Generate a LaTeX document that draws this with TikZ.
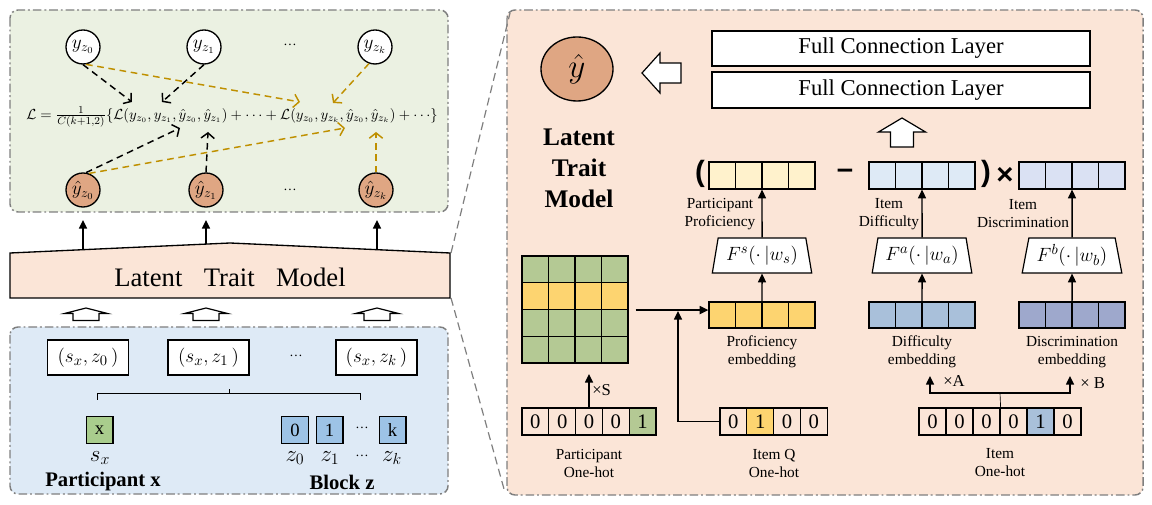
\documentclass[tikz,border=0pt]{standalone}
\usepackage{fontspec}
\setmainfont{Liberation Serif}
\setsansfont{Liberation Sans}
\usetikzlibrary{arrows.meta,calc,shapes.geometric}
\definecolor{ink}{HTML}{000000}
\definecolor{frame}{HTML}{7F7F7F}
\definecolor{tintgreen}{HTML}{EBF1E2}
\definecolor{tintblue}{HTML}{DEEAF6}
\definecolor{tintpeach}{HTML}{FBE5D7}
\definecolor{hatbrown}{HTML}{DFA683}
\definecolor{gold}{HTML}{BF9000}
\definecolor{mgreen}{HTML}{B4C994}
\definecolor{xgreen}{HTML}{A9CD8D}
\definecolor{myellow}{HTML}{FDD470}
\definecolor{mblue}{HTML}{A9C0DA}
\definecolor{zblue}{HTML}{9DC3E6}
\definecolor{mlav}{HTML}{9EA8CC}
\definecolor{ylight}{HTML}{FFF2CC}
\definecolor{blight}{HTML}{DEEAF6}
\definecolor{llight}{HTML}{DAE1F3}
\newcommand{\labfont}{\fontsize{11.5}{13.5}\selectfont}
\newcommand{\digfont}{\fontsize{15.5}{17}\selectfont}
\newcommand{\fclfont}{\fontsize{17}{19}\selectfont}
\newcommand{\headfont}{\fontsize{19}{23.25}\selectfont\bfseries}
\newcommand{\opfont}{\sffamily\bfseries\fontsize{22}{24}\selectfont}

\begin{document}
\begin{tikzpicture}[x=0.75pt,y=-0.75pt,
  panel/.style={draw=frame,line width=1.1pt,dash pattern=on 6.5pt off 2.2pt on 1.4pt off 2.2pt,rounded corners=6pt},
  zoomline/.style={draw=frame,line width=0.9pt,dash pattern=on 6pt off 3.5pt},
  cell/.style={draw=ink,line width=0.9pt,minimum width=20.1pt,minimum height=20.25pt,inner sep=0pt,font=\digfont},
  vec/.style={draw=ink,line width=0.9pt,minimum width=79.5pt,minimum height=20.25pt,inner sep=0pt},
  trap/.style={draw=ink,line width=0.9pt,fill=white,trapezium,trapezium left angle=76,trapezium right angle=76,trapezium stretches=true,minimum width=75pt,minimum height=26.25pt,inner sep=0pt,font=\fontsize{15.5}{17}\selectfont},
  arr/.style={line width=1.1pt,-{Triangle[length=6.5pt,width=6pt]}},
  dasharr/.style={line width=1.1pt,dash pattern=on 5pt off 3.5pt,-{Straight Barb[length=4pt,width=10pt,line width=1.1pt]}},
  yball/.style={circle,draw=ink,line width=1pt,fill=white,minimum size=25.5pt,inner sep=0pt,font=\fontsize{14}{16}\selectfont},
  hball/.style={yball,fill=hatbrown},
  hollow/.style={draw=ink,line width=0.9pt,fill=white},
  pairbox/.style={draw=ink,line width=0.8pt,fill=white,minimum width=60.75pt,minimum height=26.25pt,inner sep=0pt,font=\fontsize{15.5}{17}\selectfont},
  txt/.style={align=center,font=\labfont,inner sep=0pt}]
\useasboundingbox (0,0) rectangle (1152,505);

\draw[panel,fill=tintgreen] (10,10) rectangle (448,212);
\draw[panel,fill=tintblue] (10,327) rectangle (448,494);
\draw[panel,fill=tintpeach] (507,10) rectangle (1143,495);

\coordinate (ltm-ne) at (451,253);
\coordinate (ltm-se) at (451,298);
\coordinate (rp-nw) at (510,13);
\coordinate (rp-sw) at (504,489);
\draw[zoomline] (ltm-ne) -- (rp-nw);
\draw[zoomline] (ltm-se) -- (rp-sw);

\node[yball] (yz0) at (83,47) {$y_{z_0}$};
\node[yball] (yz1) at (204,47) {$y_{z_1}$};
\node[inner sep=0] (ydots) at (290,45) {\dots};
\node[yball] (yzk) at (375,47) {$y_{z_k}$};
\node[hball] (hz0) at (83,190) {$\hat{y}_{z_0}$};
\node[hball] (hz1) at (206,190) {$\hat{y}_{z_1}$};
\node[inner sep=0] (hdots) at (290,190) {\dots};
\node[hball] (hzk) at (376,190) {$\hat{y}_{z_k}$};
\node[inner sep=0,font=\fontsize{11}{13}\selectfont] (loss) at (232,117)
  {$\mathcal{L}=\frac{1}{C(k+1,2)}\{\mathcal{L}\big(y_{z_0},y_{z_1},\hat{y}_{z_0},\hat{y}_{z_1}\big)+\cdots+\mathcal{L}\big(y_{z_0},y_{z_k},\hat{y}_{z_0},\hat{y}_{z_k}\big)+\cdots\}$};
\coordinate (l1) at (132,102);
\coordinate (l2) at (162,102);
\coordinate (l3) at (180,128);
\coordinate (l4) at (208,132);
\coordinate (g1) at (300,102);
\coordinate (g2) at (333,103);
\coordinate (g3) at (345,128);
\coordinate (g4) at (376,132);
\draw[dasharr] (yz0.south) -- (l1);
\draw[dasharr] (yz1.south) -- (l2);
\draw[dasharr] (hz0.80) -- (l3);
\draw[dasharr] (hz1.north) -- (l4);
\draw[dasharr,gold] (yz0.-80) -- (g1);
\draw[dasharr,gold] (yzk.-110) -- (g2);
\draw[dasharr,gold] (hz0.70) -- (g3);
\draw[dasharr,gold] (hzk.north) -- (g4);

\draw[line width=1pt,fill=tintpeach] (10,253) -- (230,243) -- (450,253) -- (450,298) -- (10,298) -- cycle;
\node[inner sep=0,font=\fontsize{20}{22}\selectfont] (ltm) at (230,277) {Latent\hspace{0.55em} Trait\hspace{0.55em} Model};
\coordinate (t0) at (83,249.7);
\coordinate (t1) at (206,244.5);
\coordinate (t2) at (377,249.7);
\coordinate (u0) at (83,220);
\coordinate (u1) at (206,220);
\coordinate (u2) at (377,220);
\draw[arr] (t0) -- (u0);
\draw[arr] (t1) -- (u1);
\draw[arr] (t2) -- (u2);
\draw[hollow] (86,308) -- ++(21.5,5.5) -- ++(-8.5,0) -- ++(0,7) -- ++(-26,0) -- ++(0,-7) -- ++(-8.5,0) -- cycle;
\draw[hollow] (206,308) -- ++(21.5,5.5) -- ++(-8.5,0) -- ++(0,7) -- ++(-26,0) -- ++(0,-7) -- ++(-8.5,0) -- cycle;
\draw[hollow] (377,308) -- ++(21.5,5.5) -- ++(-8.5,0) -- ++(0,7) -- ++(-26,0) -- ++(0,-7) -- ++(-8.5,0) -- cycle;

\node[pairbox] (pr0) at (88,357.5) {$(s_x,z_0\,)$};
\node[pairbox] (pr1) at (208.5,357.5) {$(s_x,z_1\,)$};
\node[inner sep=0] (prdots) at (296,356) {\dots};
\node[pairbox] (prk) at (376.5,357.5) {$(s_x,z_k\,)$};
\draw[line width=0.6pt] (97,400) -- (97,393) -- (360,393) -- (360,400);
\draw[line width=0.6pt] (229,393) -- (229,389);
\node[cell,fill=xgreen,font=\fontsize{14}{16}\selectfont] (xbox) at (99.5,430) {x};
\node[cell,fill=zblue,font=\fontsize{14}{16}\selectfont] (zb0) at (295,430) {0};
\node[cell,fill=zblue,font=\fontsize{14}{16}\selectfont] (zb1) at (329.5,430) {1};
\node[inner sep=0] (zbdots) at (362,428) {\dots};
\node[cell,fill=zblue,font=\fontsize{14}{16}\selectfont] (zbk) at (392.5,430) {k};
\node[inner sep=0,font=\fontsize{17}{19}\selectfont] (sx) at (100,458) {$s_x$};
\node[inner sep=0,font=\fontsize{17}{19}\selectfont] (z0) at (295,458) {$z_0$};
\node[inner sep=0,font=\fontsize{17}{19}\selectfont] (z1) at (330,458) {$z_1$};
\node[inner sep=0] (zdots) at (362,456) {\dots};
\node[inner sep=0,font=\fontsize{17}{19}\selectfont] (zk) at (392,458) {$z_k$};
\node[inner sep=0,font=\fontsize{15.5}{17}\selectfont\bfseries] (part) at (103,482) {Participant x};
\node[inner sep=0,font=\fontsize{15.5}{17}\selectfont\bfseries] (block) at (342,482) {Block z};

\node[ellipse,draw=ink,line width=1pt,fill=hatbrown,minimum width=54pt,minimum height=48pt,inner sep=0] (yhat) at (577,69) {\fontsize{26}{28}\selectfont$\hat{y}$};
\draw[hollow] (642,73) -- ++(18,-20) -- ++(0,10) -- ++(21,0) -- ++(0,20) -- ++(-21,0) -- ++(0,10) -- cycle;
\node[draw=ink,line width=0.9pt,fill=white,minimum width=283.5pt,minimum height=26.25pt,font=\fclfont] (fc1) at (901,48.5) {Full Connection Layer};
\node[draw=ink,line width=0.9pt,fill=white,minimum width=283.5pt,minimum height=27pt,font=\fclfont] (fc2) at (901,90) {Full Connection Layer};
\draw[hollow] (902,118) -- ++(23.5,14) -- ++(-12,0) -- ++(0,15) -- ++(-23,0) -- ++(0,-15) -- ++(-12,0) -- cycle;
\node[align=center,inner sep=0,font=\headfont] (ltmhead) at (579,168) {Latent\\Trait\\Model};

\node[inner sep=0,font=\opfont] (lpar) at (700,174) {(};
\node[vec,fill=ylight] (pv) at (762,175.5) {};
\node[inner sep=0,font=\opfont] (minus) at (845,174) {–};
\node[vec,fill=blight] (dv) at (922,175.5) {};
\node[inner sep=0,font=\opfont] (rpar) at (986,174) {)};
\node[inner sep=0,font=\opfont] (times) at (1005,176) {×};
\node[vec,fill=llight] (cv) at (1072,175.5) {};
\node[txt] (pvlab) at (720,214) {Participant\\Proficiency};
\node[txt] (dvlab) at (889,214) {Item\\Difficulty};
\node[txt] (cvlab) at (1023,214) {Item\\Discrimination};

\node[trap] (fs) at (762,255.5) {$F^{s}(\cdot\,|w_s)$};
\node[trap] (fa) at (922,255.5) {$F^{a}(\cdot\,|w_a)$};
\node[trap] (fb) at (1072,255.5) {$F^{b}(\cdot\,|w_b)$};
\node[vec,fill=myellow,minimum height=19.5pt] (pe) at (762,315) {};
\node[vec,fill=mblue,minimum height=19.5pt] (de) at (922,315) {};
\node[vec,fill=mlav,minimum height=19.5pt] (ce) at (1072,315) {};
\foreach \v in {pv,dv,cv,pe,de,ce}
  \foreach \k in {1,2,3}
    \draw[line width=0.9pt] ($(\v.south west)!\k/4!(\v.south east)$) -- ($(\v.north west)!\k/4!(\v.north east)$);
\node[txt] (pelab) at (762,352) {Proficiency\\embedding};
\node[txt] (delab) at (922,352) {Difficulty\\embedding};
\node[txt] (celab) at (1072,352) {Discrimination\\embedding};
\draw[arr] (fs.north) -- (pv.south);
\draw[arr] (fa.north) -- (dv.south);
\draw[arr] (fb.north) -- (cv.south);
\draw[arr] (pe.north) -- (fs.south);
\draw[arr] (de.north) -- (fa.south);
\draw[arr] (ce.north) -- (fb.south);

\foreach \r/\col in {1/mgreen,2/myellow,3/mgreen,4/mgreen}
  \foreach \c in {1,...,4}
    \node[cell,fill=\col,minimum width=19.9pt,minimum height=20.05pt] (m\r\c) at (522+26.5*\c-13.25,256+26.75*\r-13.4) {};

\node[cell] (ph1) at (535.4,421.5) {0};
\node[cell] (ph2) at (562.2,421.5) {0};
\node[cell] (ph3) at (589,421.5) {0};
\node[cell] (ph4) at (615.8,421.5) {0};
\node[cell,fill=mgreen] (ph5) at (642.6,421.5) {1};
\node[cell] (iq1) at (733.4,421.5) {0};
\node[cell,fill=myellow] (iq2) at (760.2,421.5) {1};
\node[cell] (iq3) at (787,421.5) {0};
\node[cell] (iq4) at (813.8,421.5) {0};
\node[cell,minimum width=20.25pt] (it1) at (932.5,421.5) {0};
\node[cell,minimum width=20.25pt] (it2) at (959.5,421.5) {0};
\node[cell,minimum width=20.25pt] (it3) at (986.5,421.5) {0};
\node[cell,minimum width=20.25pt] (it4) at (1013.5,421.5) {0};
\node[cell,minimum width=20.25pt,fill=mblue] (it5) at (1040.5,421.5) {1};
\node[cell,minimum width=20.25pt] (it6) at (1067.5,421.5) {0};
\node[txt] (phlab) at (589,463) {Participant\\One-hot};
\node[txt] (iqlab) at (774,463) {Item Q\\One-hot};
\node[txt] (itlab) at (1000,463) {Item\\One-hot};

\coordinate (matout) at ($(m24.south east)+(7,0)$);
\coordinate (qtip) at (678,311);
\coordinate (stip) at (589,374);
\coordinate (br) at (1000,393);
\coordinate (ta) at (930,376);
\coordinate (tb) at (1070,376);
\draw[arr] (matout) -- (matout -| pe.west);
\draw[arr] (iq1.west) -| (qtip);
\draw[arr] (ph3.north) -- (stip);
\node[anchor=west,inner sep=0,font=\fontsize{12.5}{14}\selectfont] (xs) at (592,390) {×S};
\draw[line width=0.5pt] (it3.north east) -- (br);
\draw[arr] (br) -| (ta);
\draw[arr] (br) -| (tb);
\node[anchor=west,inner sep=0,font=\fontsize{12.5}{14}\selectfont] (xa) at (943,381) {×A};
\node[anchor=west,inner sep=0,font=\fontsize{12.5}{14}\selectfont] (xb) at (1080,383) {× B};
\end{tikzpicture}
\end{document}
